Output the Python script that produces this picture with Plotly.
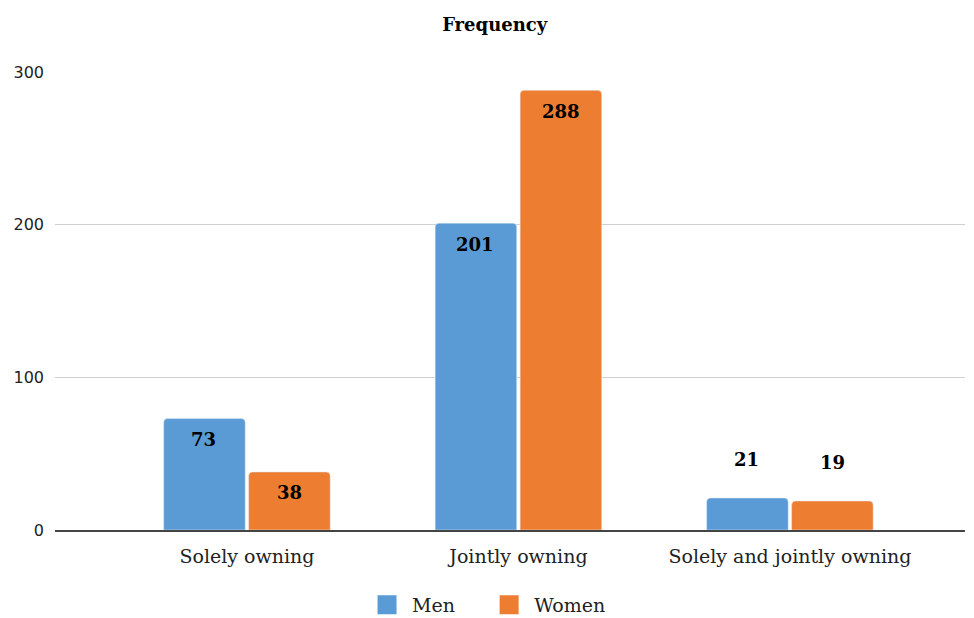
import plotly.graph_objects as go

categories = ["Solely owning", "Jointly owning", "Solely and jointly owning"]
men = [73, 201, 21]
women = [38, 288, 19]
y_ticks = [0, 100, 200, 300]
title = "Frequency"
series_names = ["Men", "Women"]

colors = {"Men": "#5B9BD5", "Women": "#ED7D31"}
serif = "DejaVu Serif"
label_font = dict(family=serif, size=18, color="black")

fig = go.Figure()
for name, vals in zip(series_names, (men, women)):
    fig.add_trace(go.Bar(name=name, x=categories, y=vals, marker_color=colors[name],
                         showlegend=False))
    # legend proxy with a large square swatch
    pad = "&nbsp;" * 4 if name == "Men" else ""
    fig.add_trace(go.Scatter(name=name + pad, x=[None], y=[None], mode="markers",
                             marker=dict(symbol="square", size=16, color=colors[name],
                                         line=dict(color=colors[name], width=3))))

# value labels anchored at each bar's value via the axes
for vals, shift in ((men, -43), (women, 43)):
    for cat, v in zip(categories, vals):
        inside = v > 30
        fig.add_annotation(x=cat, y=v, xref="x", yref="y", text=f"<b>{v}</b>",
                           showarrow=False, xshift=shift, yshift=-21 if inside else 38,
                           font=label_font)

fig.update_layout(
    width=958, height=610,
    margin=dict(l=47, r=1, t=64, b=88, autoexpand=False),
    paper_bgcolor="white", plot_bgcolor="white",
    barmode="group", bargap=0.374, bargroupgap=0.04,
    barcornerradius=4,
    title=dict(text="<b>" + title + "</b>", x=0.508, xanchor="center", y=0.9725, yanchor="middle",
               font=dict(family=serif, size=18, color="black")),
    legend=dict(orientation="h", x=0.3374, xanchor="left", y=-0.1638, yanchor="middle",
                font=dict(family=serif, size=19, color="#222"),
                itemwidth=40, tracegroupgap=0),
    xaxis=dict(range=[-0.707, 2.645], showgrid=False, showline=True, linecolor="#444",
               linewidth=1.5, ticks="", ticklabelstandoff=8,
               tickfont=dict(family=serif, size=19, color="#222")),
    yaxis=dict(range=[0, 300], tickvals=y_ticks, showgrid=True, gridcolor="#D0D0D0",
               gridwidth=1.3, zeroline=False, ticks="", ticklabelstandoff=10,
               tickfont=dict(family="DejaVu Sans", size=16, color="#222")),
)

fig.write_html("out.html", config={"displayModeBar": False},
               post_script="document.documentElement.style.overflow='hidden';")
